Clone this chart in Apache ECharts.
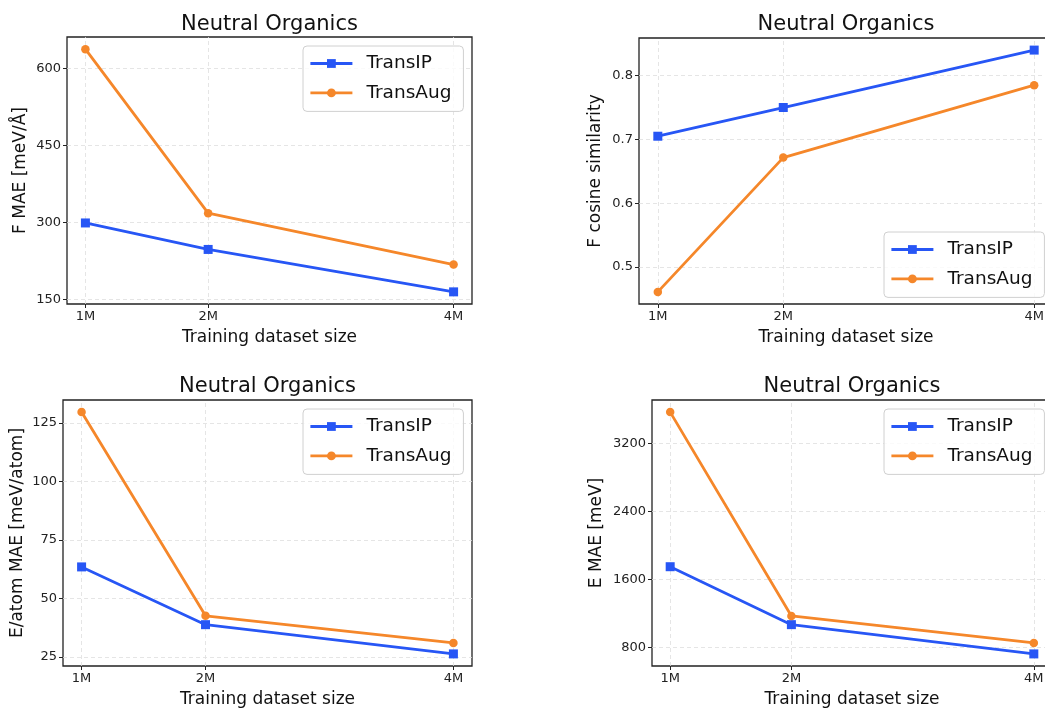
<!DOCTYPE html>
<html>
<head>
<meta charset="utf-8">
<script src="https://cdn.jsdelivr.net/npm/echarts@6.0.0/dist/echarts.min.js"></script>
<style>
html,body{margin:0;padding:0;background:#fff;}
#chart{width:1045px;height:709px;}
</style>
</head>
<body>
<div id="chart"></div>
<script>
// ---- data ----
const xValues = [1, 2, 4];
const xTickLabels = ['1M', '2M', '4M'];
const seriesNames = ['TransIP', 'TransAug'];
const panelTitle = 'Neutral Organics';
const xAxisTitle = 'Training dataset size';

const fMaeTransIP = [299, 247.5, 165];
const fMaeTransAug = [637, 318, 218];
const fMaeTicks = [150, 300, 450, 600];

const fCosTransIP = [0.705, 0.750, 0.840];
const fCosTransAug = [0.461, 0.6715, 0.785];
const fCosTicks = [0.5, 0.6, 0.7, 0.8];

const eAtomTransIP = [63.5, 38.8, 26.3];
const eAtomTransAug = [129.7, 42.6, 31.0];
const eAtomTicks = [25, 50, 75, 100, 125];

const eMaeTransIP = [1750, 1067, 722];
const eMaeTransAug = [3573, 1170, 852];
const eMaeTicks = [800, 1600, 2400, 3200];

// ---- layout / style ----
const BLUE = '#2756f5';
const ORANGE = '#f5872a';
const FONT = 'DejaVu Sans';

const panels = [
  { grid: {left: 67, top: 37, width: 405, height: 267}, yName: 'F MAE [meV/Å]', ip: fMaeTransIP, aug: fMaeTransAug, ticks: fMaeTicks, yGap: 38, legend: {left: 303, top: 46}, titleY: 14 },
  { grid: {left: 639, top: 38, width: 414, height: 266}, yName: 'F cosine similarity', ip: fCosTransIP, aug: fCosTransAug, ticks: fCosTicks, yGap: 35, legend: {left: 884, top: 232}, titleY: 14 },
  { grid: {left: 63, top: 400, width: 409, height: 266}, yName: 'E/atom MAE [meV/atom]', ip: eAtomTransIP, aug: eAtomTransAug, ticks: eAtomTicks, yGap: 37, legend: {left: 303, top: 409}, titleY: 376 },
  { grid: {left: 652, top: 400, width: 400, height: 266}, yName: 'E MAE [meV]', ip: eMaeTransIP, aug: eMaeTransAug, ticks: eMaeTicks, yGap: 47, legend: {left: 884, top: 409}, titleY: 376 }
];

const grids = [], xAxes = [], yAxes = [], series = [], legends = [], titles = [];

panels.forEach((p, i) => {
  const all = p.ip.concat(p.aug);
  const dmin = Math.min(...all), dmax = Math.max(...all);
  const pad = (dmax - dmin) * 0.05;
  grids.push(Object.assign({show: true, borderColor: '#222', borderWidth: 1.3, backgroundColor: 'transparent',
    containLabel: false, outerBoundsMode: 'none'}, p.grid));
  xAxes.push({
    type: 'value', gridIndex: i, min: 0.85, max: 4.15,
    name: xAxisTitle, nameLocation: 'middle', nameGap: 25,
    nameTextStyle: {fontFamily: FONT, fontSize: 17, color: '#111', verticalAlign: 'top'},
    axisLine: {show: false},
    axisTick: {show: true, inside: false, length: 4, customValues: xValues, lineStyle: {color: '#222', width: 1}},
    axisLabel: {customValues: xValues, margin: 6, fontFamily: FONT, fontSize: 13, color: '#222',
      hideOverlap: false, formatter: v => xTickLabels[xValues.indexOf(v)] || ''},
    splitLine: {show: false}
  });
  yAxes.push({
    type: 'value', gridIndex: i, min: dmin - pad, max: dmax + pad,
    name: p.yName, nameLocation: 'middle', nameGap: p.yGap,
    nameTextStyle: {fontFamily: FONT, fontSize: 17, color: '#111'},
    axisLine: {show: false},
    axisTick: {show: true, inside: false, length: 4, customValues: p.ticks, lineStyle: {color: '#222', width: 1}},
    axisLabel: {customValues: p.ticks, margin: 6, fontFamily: FONT, fontSize: 13, color: '#222',
      formatter: v => String(v)},
    splitLine: {show: false}
  });
  const gridLines = xValues.map(v => ({xAxis: v})).concat(p.ticks.map(v => ({yAxis: v})));
  // background grid lines, drawn under the data lines
  series.push({
    name: 'grid' + i, type: 'line', xAxisIndex: i, yAxisIndex: i,
    data: [], z: 1, silent: true, animation: false,
    markLine: {z: 1, silent: true, symbol: ['none', 'none'], label: {show: false}, animation: false,
      lineStyle: {type: [4, 3], color: '#dedede', width: 0.8}, emphasis: {disabled: true}, data: gridLines}
  });
  series.push({
    name: seriesNames[0], type: 'line', xAxisIndex: i, yAxisIndex: i,
    data: xValues.map((x, k) => [x, p.ip[k]]),
    symbol: 'rect', symbolSize: 9, color: BLUE,
    lineStyle: {width: 2.8, color: BLUE}, itemStyle: {color: BLUE, borderWidth: 0},
    z: 3, animation: false
  });
  series.push({
    name: seriesNames[1], type: 'line', xAxisIndex: i, yAxisIndex: i,
    data: xValues.map((x, k) => [x, p.aug[k]]),
    symbol: 'circle', symbolSize: 8.5, color: ORANGE,
    lineStyle: {width: 2.8, color: ORANGE}, itemStyle: {color: ORANGE, borderWidth: 0},
    z: 4, animation: false
  });
  legends.push({
    data: seriesNames, orient: 'vertical', left: p.legend.left, top: p.legend.top,
    itemWidth: 42, itemHeight: 11, itemGap: 10.4,
    padding: [8, 12, 9, 6],
    lineStyle: {width: 2.8},
    backgroundColor: 'rgba(255,255,255,0.8)', borderColor: '#d0d0d0', borderWidth: 1, borderRadius: 4,
    textStyle: {fontFamily: FONT, fontSize: 18.5, color: '#111', lineHeight: 18, padding: [0, 0, 0, 9]},
    selectedMode: false
  });
  titles.push({
    text: panelTitle, left: p.grid.left + p.grid.width / 2, top: p.titleY, textAlign: 'center', padding: 0,
    textStyle: {fontFamily: FONT, fontSize: 21, fontWeight: 'normal', color: '#111'}
  });
});

const chart = echarts.init(document.getElementById('chart'), null, {renderer: 'canvas'});
chart.setOption({
  backgroundColor: '#fff',
  animation: false,
  title: titles,
  legend: legends,
  grid: grids,
  xAxis: xAxes,
  yAxis: yAxes,
  series: series
});
</script>
</body>
</html>
